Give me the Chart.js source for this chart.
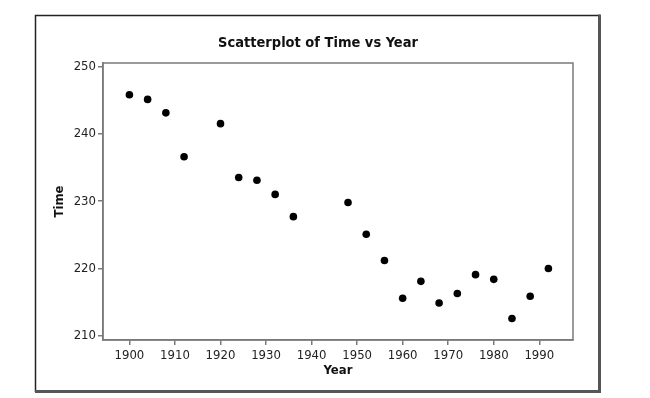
<!DOCTYPE html>
<html>
<head>
<meta charset="utf-8">
<script src="https://cdn.jsdelivr.net/npm/chart.js@4"></script>
<style>
  html, body { margin: 0; padding: 0; background: #fff; }
  #wrap { width: 650px; height: 398px; position: relative; }
</style>
</head>
<body>
<div id="wrap"><canvas id="plot"></canvas></div>
<script>
const years = [1900, 1904, 1908, 1912, 1920, 1924, 1928, 1932, 1936, 1948, 1952, 1956, 1960, 1964, 1968, 1972, 1976, 1980, 1984, 1988, 1992];
const times = [245.8, 245.1, 243.1, 236.6, 241.5, 233.5, 233.1, 231.0, 227.7, 229.8, 225.1, 221.2, 215.6, 218.1, 214.9, 216.3, 219.1, 218.4, 212.6, 215.9, 220.0];
const xTicks = [1900, 1910, 1920, 1930, 1940, 1950, 1960, 1970, 1980, 1990];
const yTicks = [210, 220, 230, 240, 250];

const FONT = "'DejaVu Sans Condensed', 'DejaVu Sans', sans-serif";
const AXIS = '#7a7a7a';

// outer frame, plot box and title
const framePlugin = {
  id: 'frame',
  afterDraw(chart) {
    const c = chart.ctx, a = chart.chartArea;
    c.save();
    c.strokeStyle = AXIS;
    c.lineWidth = 1.5;
    c.strokeRect(a.left, a.top, a.right - a.left, a.bottom - a.top);
    c.strokeStyle = '#222';
    c.lineWidth = 1.5;
    c.beginPath();
    c.moveTo(35.5, 392); c.lineTo(35.5, 15.5); c.lineTo(600, 15.5);
    c.stroke();
    c.strokeStyle = '#555';
    c.lineWidth = 3;
    c.beginPath();
    c.moveTo(599.5, 14.5); c.lineTo(599.5, 391.5); c.lineTo(35, 391.5);
    c.stroke();
    c.fillStyle = '#111';
    c.font = 'bold 14.5px ' + FONT;
    c.textAlign = 'center';
    c.textBaseline = 'alphabetic';
    c.fillText('Scatterplot of Time vs Year', 318, 47);
    c.restore();
  }
};

new Chart(document.getElementById('plot'), {
  type: 'scatter',
  data: {
    datasets: [{
      data: years.map((y, i) => ({ x: y, y: times[i] })),
      backgroundColor: '#000',
      borderWidth: 0,
      pointRadius: 3.8,
      pointHoverRadius: 3.8
    }]
  },
  options: {
    responsive: true, maintainAspectRatio: false, animation: false,
    layout: { padding: { left: 0, top: 63, right: 77, bottom: 0 } },
    plugins: { legend: { display: false }, tooltip: { enabled: false } },
    scales: {
      x: {
        type: 'linear', min: 1894.2, max: 1997.4,
        afterFit: s => { s.height = 58; },
        afterBuildTicks: s => { s.ticks = xTicks.map(v => ({ value: v })); },
        grid: { drawOnChartArea: false, drawTicks: true, tickLength: 5, color: AXIS, lineWidth: 1.5 },
        border: { display: true, color: AXIS, width: 1.5 },
        ticks: { color: '#222', padding: 3, maxRotation: 0, callback: v => String(v), font: { family: FONT, size: 13 } },
        title: { display: true, text: 'Year', color: '#111', padding: { top: 0, bottom: 20 }, font: { family: FONT, size: 13, weight: 'bold' } }
      },
      y: {
        type: 'linear', min: 209.4, max: 250.5,
        afterFit: s => { s.width = 103; },
        afterBuildTicks: s => { s.ticks = yTicks.map(v => ({ value: v })); },
        grid: { drawOnChartArea: false, drawTicks: true, tickLength: 5, color: AXIS, lineWidth: 1.5 },
        border: { display: true, color: AXIS, width: 1.5 },
        ticks: { color: '#222', padding: 2, callback: v => String(v), font: { family: FONT, size: 13 } },
        title: { display: true, text: 'Time', color: '#111', padding: { top: 51.5, bottom: 0 }, font: { family: FONT, size: 13, weight: 'bold' } }
      }
    }
  },
  plugins: [framePlugin]
});
</script>
</body>
</html>
